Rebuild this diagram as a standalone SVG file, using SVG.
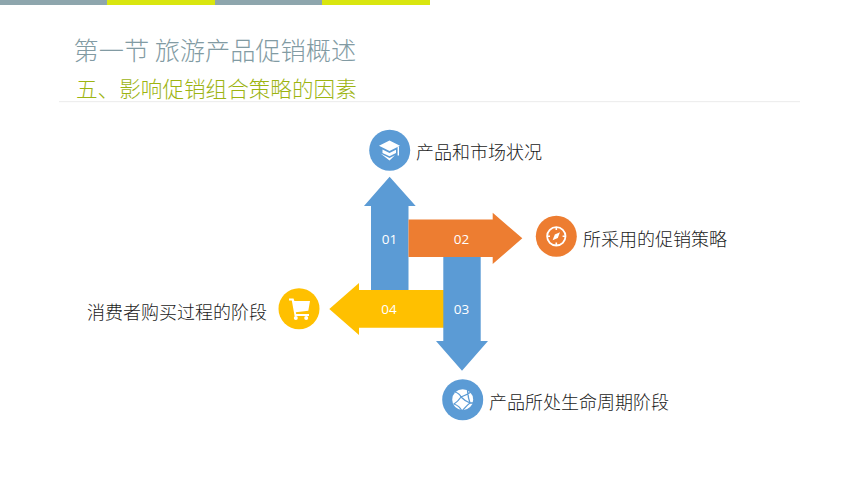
<svg xmlns="http://www.w3.org/2000/svg" width="860" height="484" viewBox="0 0 860 484">
<style>
text{font-family:"Noto Sans CJK SC","Noto Sans",sans-serif;font-weight:300}
.lab{font-size:18px;fill:#1a1a1a}
.num{font-family:"Open Sans","Noto Sans",sans-serif;font-weight:400;font-size:13.5px;fill:#fff;text-anchor:middle}
.ic{fill:#fff}
.blue{fill:#5b9bd5}.or{fill:#ed7d31}.ye{fill:#ffc000}
</style>
<rect width="860" height="484" fill="#fff"/>
<g id="header">
<rect x="0" y="0" width="107" height="5" fill="#8ea6ad"/>
<rect x="107" y="0" width="108" height="5" fill="#d9e60f"/>
<rect x="215" y="0" width="107" height="5" fill="#8ea6ad"/>
<rect x="322" y="0" width="108" height="5" fill="#d9e60f"/>
<text x="73.5" y="59.5" font-size="25.2" fill="#829ba3">第一节 旅游产品促销概述</text>
<text x="76" y="97" font-size="21.6" fill="#9db411">五、影响促销组合策略的因素</text>
<rect x="59" y="101" width="741" height="1.2" fill="#eeeeee"/>
</g>
<g id="connectors">
<g id="arrow-01"><polygon class="blue" points="389.6,176.7 415.7,206 408.5,206 408.5,292 371,292 371,206 364,206"/><text class="num" x="389.6" y="243.5">01</text></g>
<g id="arrow-04"><polygon class="ye" points="329.3,309 359,283 359,290 445,290 445,327.7 359,327.7 359,335"/><text class="num" x="389" y="314">04</text></g>
<g id="arrow-03"><polygon class="blue" points="443.3,255 480.7,255 480.7,341 488,341 462,370.7 436,341 443.3,341"/><text class="num" x="461.6" y="314">03</text></g>
<g id="arrow-02"><polygon class="or" points="408.5,219.5 492.7,219.5 492.7,212.7 522.3,238.3 492.7,264 492.7,257 408.5,257"/><text class="num" x="461.6" y="243.5">02</text></g>
</g>
<g id="node-1">
<circle class="blue" cx="389.7" cy="150.3" r="20.5"/>
<path class="ic" d="M389.5 140.5 L400 145.8 L389.5 151 L379 145.8Z M382.5 149.5 L389.5 153 L396 149.8 V153 L389.5 156.3 L382.5 153Z M380.5 153.5 L389.5 158 L395 155.3 L389.5 160.5 Z"/>
<rect class="ic" x="397.6" y="146.5" width="1.4" height="9"/>
<text class="lab" x="416" y="158.5">产品和市场状况</text>
</g>
<g id="node-2">
<circle class="or" cx="556.3" cy="236.3" r="20.5"/>
<circle cx="556.3" cy="236.3" r="9.2" fill="none" stroke="#fff" stroke-width="1.8"/>
<path d="M556.3 227V230M556.3 242.6V245.6M547 236.3H550M562.6 236.3H565.6" stroke="#fff" stroke-width="1.6"/>
<polygon class="ic" points="560,232.3 557.8,238 552.6,240.3 554.8,234.6"/>
<text class="lab" x="583" y="245.5">所采用的促销策略</text>
</g>
<g id="node-3">
<circle class="blue" cx="462.7" cy="399.7" r="20.5"/>
<circle class="ic" cx="462.7" cy="399.7" r="10.5"/>
<path d="M455 392 C458 393 460 394 461 397 C464 396 468 394 471 392 M461 397 C459 400 457 402 454 404 C457 405 460 407 462 411 M461 397 C464 400 467 402 470 403 C468 398 468 395 467.5 390 M470 403 L473 403 M462 411 C465 408 467 405 470 403" fill="none" stroke="#5b9bd5" stroke-width="1.3"/>
<text class="lab" x="489" y="408.5">产品所处生命周期阶段</text>
</g>
<g id="node-4">
<circle class="ye" cx="299" cy="308.7" r="20.5"/>
<path class="ic" d="M289 298.5 H293.5 L294.4 301 H310 L308.3 310.8 L295.8 312.3 L296.2 314 H309 V316 H294.6 L291.8 300.6 H289Z"/>
<circle class="ic" cx="295.8" cy="318" r="2"/>
<circle class="ic" cx="306.2" cy="318" r="2"/>
<text class="lab" x="87" y="318.5">消费者购买过程的阶段</text>
</g>
</svg>
